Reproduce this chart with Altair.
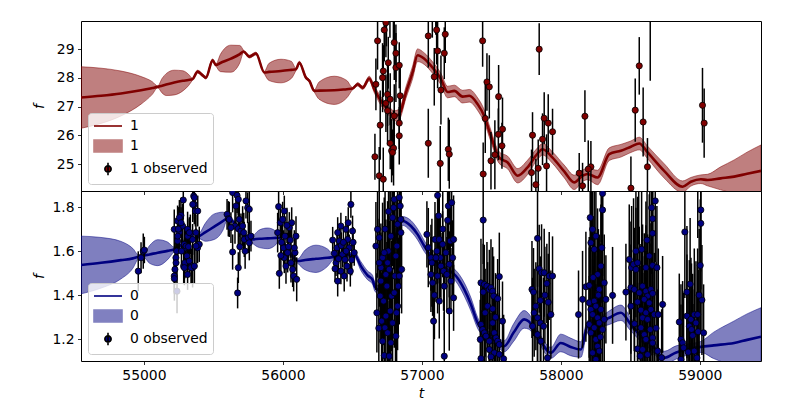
import altair as alt
import pandas as pd

X_DOMAIN = [54547, 59440]
X_TICKS = [55000, 56000, 57000, 58000, 59000]

# ---- GP fit, band "1" (top): (t, mean, half-width) ----
gp_top = [
    (54547, 27.32, 1.07), (54691, 27.38, 0.96), (54835, 27.46, 0.78), (54979, 27.57, 0.48),
    (55060, 27.65, 0.22), (55099, 27.69, 0.03), (55130, 27.73, 0.25), (55160, 27.77, 0.38),
    (55218, 27.84, 0.43), (55280, 27.90, 0.35), (55320, 27.93, 0.2), (55350, 27.96, 0.03),
    (55386, 28.22, 0.05), (55420, 28.10, 0.05), (55446, 28.01, 0.05), (55494, 28.61, 0.05),
    (55518, 28.45, 0.04), (55550, 28.52, 0.3), (55626, 28.67, 0.47), (55690, 28.83, 0.3),
    (55717, 28.92, 0.04), (55758, 28.74, 0.05), (55806, 28.85, 0.05), (55866, 28.19, 0.04),
    (55900, 28.21, 0.3), (55986, 28.24, 0.41), (56060, 28.28, 0.3), (56094, 28.30, 0.04),
    (56118, 28.53, 0.05), (56166, 28.01, 0.05), (56190, 27.90, 0.05), (56226, 27.55, 0.04),
    (56260, 27.56, 0.3), (56369, 27.57, 0.49), (56460, 27.61, 0.3), (56501, 27.63, 0.04),
    (56538, 27.78, 0.06), (56574, 27.66, 0.06), (56621, 27.98, 0.08), (56657, 27.61, 0.12),
    (56705, 27.20, 0.15), (56753, 26.91, 0.15), (56801, 26.68, 0.18), (56837, 26.74, 0.18),
    (56885, 27.49, 0.2), (56933, 28.19, 0.22), (56969, 28.79, 0.22), (57017, 28.67, 0.2),
    (57077, 28.36, 0.2), (57137, 27.96, 0.2), (57185, 27.51, 0.2), (57233, 27.55, 0.2),
    (57293, 27.35, 0.22), (57341, 27.38, 0.22), (57401, 27.09, 0.22), (57448, 26.68, 0.22),
    (57496, 25.99, 0.2), (57556, 25.23, 0.2), (57617, 25.06, 0.22), (57689, 24.60, 0.25),
    (57760, 24.89, 0.25), (57832, 25.37, 0.2), (57868, 25.52, 0.2), (57940, 25.23, 0.2),
    (58024, 24.75, 0.22), (58096, 24.37, 0.25), (58156, 24.60, 0.2), (58192, 24.66, 0.2),
    (58264, 24.54, 0.25), (58348, 25.35, 0.22), (58432, 25.47, 0.22), (58504, 25.61, 0.2),
    (58564, 25.72, 0.22), (58624, 25.41, 0.22), (58743, 24.77, 0.25), (58876, 24.22, 0.2),
    (58935, 24.39, 0.15), (59007, 24.48, 0.15), (59055, 24.45, 0.2), (59150, 24.51, 0.4),
    (59247, 24.57, 0.58), (59340, 24.67, 0.75), (59440, 24.77, 0.9),
]

# ---- observed "1" (top): (t, f, err) ----
obs_top = [
    (56669, 27.78, 0.9), (56681, 29.29, 1.0), (56729, 29.67, 1.1), (56741, 29.92, 1.2),
    (56753, 27.43, 1.1), (56758, 28.53, 0.9), (56717, 28.01, 1.2), (56722, 28.24, 0.9),
    (56741, 27.12, 1.0), (56753, 26.86, 1.2), (56772, 27.26, 0.9), (56801, 29.23, 1.3),
    (56813, 28.86, 1.0), (56813, 28.36, 1.2), (56837, 28.44, 0.8), (56844, 27.38, 1.0),
    (56801, 26.68, 1.1), (56837, 26.43, 0.9), (56837, 25.99, 1.0), (56700, 26.36, 1.2),
    (56662, 25.26, 0.8), (56693, 24.60, 1.0), (56722, 24.48, 1.1), (56772, 25.73, 0.9),
    (56782, 25.47, 1.1), (56796, 25.56, 1.3), (56789, 25.41, 0.8), (56745, 30.40, 1.3),
    (56770, 30.60, 1.2), (56795, 30.30, 1.0), (57046, 29.46, 1.1), (57106, 29.67, 1.2),
    (57168, 29.52, 1.0), (57113, 28.94, 1.3), (57161, 28.86, 0.9), (57089, 28.04, 1.0),
    (57137, 27.58, 1.2), (57046, 25.73, 1.2), (57132, 25.03, 1.3), (57190, 25.52, 1.1),
    (57197, 25.35, 1.2), (57075, 30.50, 1.1), (57100, 30.70, 1.2), (57437, 29.29, 0.9),
    (57468, 27.86, 1.0), (57485, 27.69, 1.1), (57552, 27.35, 1.1), (57456, 26.59, 1.2),
    (57580, 26.22, 1.1), (57550, 26.04, 0.9), (57576, 25.64, 0.8), (57525, 25.33, 1.2),
    (57497, 25.12, 1.0), (57441, 24.66, 1.1), (57844, 29.00, 0.9), (57796, 26.01, 0.8),
    (57880, 26.60, 0.9), (57909, 26.43, 1.0), (57940, 26.13, 0.8), (57868, 25.87, 0.9),
    (57837, 24.86, 1.0), (57897, 24.94, 1.1), (57789, 24.71, 0.8), (57820, 24.29, 0.9),
    (58173, 26.67, 0.9), (58132, 24.69, 0.7), (58156, 24.25, 0.8), (58216, 24.91, 0.9),
    (58197, 24.83, 1.0), (58535, 26.88, 1.1), (58564, 28.42, 1.0), (58592, 26.47, 1.2),
    (58623, 24.91, 1.0), (58504, 24.17, 1.1), (58643, 30.10, 2.2), (59019, 27.05, 1.3),
    (59031, 26.43, 1.2),
]

# ---- GP fit, band "0" (bottom) ----
gp_bot = [
    (54547, 1.537, 0.131), (54691, 1.547, 0.115), (54835, 1.559, 0.085), (54920, 1.567, 0.045),
    (54960, 1.574, 0.01), (55000, 1.580, 0.01), (55040, 1.585, 0.04), (55099, 1.593, 0.059),
    (55170, 1.601, 0.04), (55218, 1.608, 0.01), (55260, 1.625, 0.012), (55302, 1.646, 0.012),
    (55350, 1.655, 0.012), (55398, 1.668, 0.012), (55440, 1.685, 0.04), (55506, 1.711, 0.058),
    (55570, 1.737, 0.04), (55597, 1.747, 0.01), (55650, 1.729, 0.01), (55700, 1.690, 0.01),
    (55770, 1.653, 0.012), (55830, 1.656, 0.04), (55890, 1.658, 0.047), (55950, 1.660, 0.03),
    (55974, 1.661, 0.01), (56040, 1.600, 0.01), (56106, 1.555, 0.01), (56160, 1.560, 0.045),
    (56238, 1.565, 0.062), (56320, 1.570, 0.04), (56369, 1.574, 0.01), (56440, 1.580, 0.01),
    (56513, 1.585, 0.012), (56561, 1.532, 0.02), (56609, 1.490, 0.02), (56645, 1.470, 0.02),
    (56660, 1.440, 0.02), (56700, 1.420, 0.02), (56740, 1.470, 0.02), (56780, 1.580, 0.02),
    (56820, 1.680, 0.02), (56861, 1.737, 0.02), (56921, 1.714, 0.025), (56969, 1.676, 0.025),
    (57017, 1.623, 0.025), (57065, 1.578, 0.02), (57113, 1.547, 0.02), (57185, 1.517, 0.02),
    (57245, 1.487, 0.025), (57305, 1.426, 0.03), (57353, 1.358, 0.03), (57401, 1.274, 0.025),
    (57470, 1.220, 0.02), (57544, 1.187, 0.02), (57592, 1.168, 0.025), (57660, 1.230, 0.04),
    (57736, 1.290, 0.04), (57770, 1.280, 0.035), (57830, 1.220, 0.025), (57928, 1.138, 0.025),
    (57999, 1.183, 0.04), (58070, 1.165, 0.04), (58144, 1.153, 0.035), (58192, 1.259, 0.025),
    (58264, 1.274, 0.02), (58340, 1.295, 0.03), (58432, 1.320, 0.035), (58500, 1.270, 0.03),
    (58576, 1.214, 0.025), (58660, 1.170, 0.025), (58743, 1.115, 0.03), (58830, 1.140, 0.03),
    (58911, 1.153, 0.025), (59007, 1.165, 0.025), (59100, 1.172, 0.06), (59247, 1.183, 0.1),
    (59340, 1.197, 0.118), (59440, 1.211, 0.132),
]

# ---- observed "0" (bottom) ----
obs_bot = [
    (54959, 1.509, 0.09), (54979, 1.570, 0.07), (54995, 1.600, 0.08), (55003, 1.605, 0.06),
    (55218, 1.487, 0.08), (55223, 1.517, 0.07), (55230, 1.570, 0.09), (55235, 1.600, 0.07),
    (55242, 1.646, 0.08), (55218, 1.699, 0.09), (55242, 1.737, 0.07), (55266, 1.762, 0.08),
    (55278, 1.714, 0.1), (55254, 1.684, 0.08), (55290, 1.631, 0.07), (55298, 1.615, 0.09),
    (55286, 1.532, 0.08), (55295, 1.547, 0.07), (55310, 1.578, 0.08), (55283, 1.832, 0.09),
    (55314, 1.699, 0.08), (55326, 1.555, 0.07), (55343, 1.532, 0.08), (55334, 1.676, 0.09),
    (55350, 1.653, 0.07), (55358, 1.850, 0.08), (55362, 1.812, 0.09), (55370, 1.782, 0.07),
    (55374, 1.684, 0.08), (55386, 1.615, 0.07), (55398, 1.631, 0.08), (55350, 1.525, 0.09),
    (55314, 1.494, 0.07), (55255, 1.752, 0.08), (55267, 1.729, 0.07), (55243, 1.668, 0.09),
    (55303, 1.623, 0.07), (55315, 1.668, 0.08), (55327, 1.684, 0.07), (55351, 1.812, 0.08),
    (55363, 1.843, 0.1), (55387, 1.782, 0.07), (55375, 1.623, 0.08), (55339, 1.525, 0.07),
    (55291, 1.525, 0.08), (55231, 1.547, 0.09), (55219, 1.475, 0.1), (55363, 1.532, 0.08),
    (55238, 1.418, 0.1), (55247, 1.700, 0.1), (55270, 1.600, 0.08), (55320, 1.620, 0.09),
    (55598, 1.767, 0.07), (55607, 1.747, 0.08), (55638, 1.866, 0.09), (55670, 1.853, 0.08),
    (55679, 1.835, 0.07), (55655, 1.714, 0.08), (55679, 1.702, 0.09), (55626, 1.707, 0.07),
    (55614, 1.744, 0.08), (55638, 1.596, 0.08), (55679, 1.525, 0.07), (55674, 1.410, 0.07),
    (55698, 1.691, 0.08), (55718, 1.684, 0.09), (55734, 1.828, 0.08), (55746, 1.797, 0.07),
    (55758, 1.790, 0.09), (55722, 1.653, 0.08), (55751, 1.661, 0.07), (55686, 1.744, 0.08),
    (55710, 1.714, 0.09), (55662, 1.805, 0.08), (55770, 1.668, 0.07), (55758, 1.638, 0.08),
    (55690, 1.620, 0.09), (55728, 1.600, 0.08),
    (55969, 1.802, 0.08), (55981, 1.729, 0.07), (55962, 1.684, 0.09), (55974, 1.499, 0.07),
    (55998, 1.744, 0.08), (56010, 1.782, 0.07), (56015, 1.668, 0.09), (56005, 1.615, 0.08),
    (56010, 1.570, 0.07), (56022, 1.532, 0.08), (56034, 1.593, 0.09), (56046, 1.707, 0.07),
    (56053, 1.650, 0.08), (56058, 1.547, 0.09), (56070, 1.517, 0.08), (56077, 1.487, 0.07),
    (56087, 1.593, 0.08), (56094, 1.668, 0.09), (56082, 1.615, 0.08), (56099, 1.472, 0.1),
    (56063, 1.729, 0.07), (56029, 1.717, 0.08), (55990, 1.640, 0.08), (55985, 1.580, 0.07),
    (56040, 1.620, 0.08),
    (56358, 1.650, 0.06), (56394, 1.684, 0.07), (56406, 1.646, 0.06), (56389, 1.615, 0.07),
    (56382, 1.547, 0.06), (56394, 1.464, 0.07), (56429, 1.585, 0.06), (56441, 1.487, 0.07),
    (56453, 1.699, 0.06), (56466, 1.653, 0.07), (56477, 1.615, 0.06), (56485, 1.509, 0.07),
    (56489, 1.812, 0.06), (56501, 1.691, 0.07), (56513, 1.593, 0.06), (56470, 1.729, 0.07),
    (56417, 1.714, 0.06), (56446, 1.562, 0.07), (56417, 1.509, 0.06), (56461, 1.532, 0.07),
    (56370, 1.590, 0.06), (56400, 1.565, 0.07), (56420, 1.625, 0.06), (56435, 1.640, 0.07),
    (56455, 1.600, 0.06), (56495, 1.560, 0.07), (56375, 1.520, 0.06), (56505, 1.640, 0.07),
    (56669, 1.623, 0.2), (56681, 1.699, 0.22), (56676, 1.320, 0.18), (56693, 1.661, 0.25),
    (56705, 1.525, 0.2), (56705, 1.464, 0.22), (56717, 1.570, 0.25), (56724, 1.373, 0.2),
    (56710, 1.282, 0.22), (56717, 1.191, 0.2), (56729, 1.126, 0.25), (56734, 1.252, 0.22),
    (56741, 1.494, 0.25), (56748, 1.441, 0.2), (56753, 1.547, 0.28), (56758, 1.600, 0.22),
    (56765, 1.123, 0.25), (56772, 1.328, 0.2), (56777, 1.668, 0.3), (56782, 1.396, 0.25),
    (56789, 1.752, 0.22), (56796, 1.797, 0.28), (56801, 1.835, 0.25), (56806, 1.487, 0.22),
    (56813, 1.578, 0.25), (56820, 1.623, 0.2), (56825, 1.722, 0.25), (56830, 1.441, 0.22),
    (56837, 1.843, 0.25), (56844, 1.805, 0.2), (56849, 1.744, 0.22), (56849, 1.684, 0.25),
    (56854, 1.517, 0.2), (56789, 1.274, 0.25), (56753, 1.229, 0.22), (56693, 1.547, 0.2),
    (56729, 1.593, 0.25), (56765, 1.517, 0.22), (56801, 1.411, 0.25), (56825, 1.350, 0.2),
    (56741, 1.305, 0.22), (56777, 1.184, 0.25), (56813, 1.214, 0.22), (56700, 1.396, 0.2),
    (56837, 1.487, 0.22), (56770, 1.950, 0.3), (56790, 2.000, 0.25), (56845, 1.930, 0.2),
    (56760, 1.050, 0.25), (56810, 1.060, 0.22), (56735, 1.700, 0.25), (56760, 1.780, 0.22),
    (56690, 1.250, 0.2), (56818, 1.320, 0.25),
    (57036, 1.676, 0.15), (57046, 1.616, 0.18), (57065, 1.570, 0.15), (57072, 1.547, 0.2),
    (57065, 1.494, 0.17), (57077, 1.456, 0.15), (57084, 1.282, 0.18), (57113, 1.853, 0.2),
    (57094, 1.653, 0.17), (57108, 1.600, 0.15), (57125, 1.653, 0.2), (57132, 1.570, 0.18),
    (57137, 1.532, 0.15), (57113, 1.487, 0.17), (57101, 1.570, 0.2), (57149, 1.631, 0.15),
    (57156, 1.509, 0.18), (57161, 1.441, 0.2), (57173, 1.593, 0.15), (57180, 1.494, 0.17),
    (57190, 1.805, 0.2), (57197, 1.540, 0.15), (57204, 1.646, 0.18), (57214, 1.820, 0.2),
    (57209, 1.464, 0.15), (57221, 1.570, 0.17), (57228, 1.653, 0.2), (57228, 1.388, 0.15),
    (57197, 1.328, 0.18), (57161, 1.123, 0.2), (57125, 1.373, 0.17), (57090, 1.400, 0.2),
    (57150, 1.700, 0.18), (57185, 1.740, 0.2), (57120, 1.760, 0.17), (57200, 1.920, 0.2),
    (57441, 1.741, 0.2), (57425, 1.456, 0.2), (57449, 1.449, 0.18), (57441, 1.414, 0.22),
    (57468, 1.441, 0.2), (57485, 1.426, 0.18), (57497, 1.434, 0.22), (57509, 1.418, 0.2),
    (57516, 1.396, 0.18), (57473, 1.350, 0.2), (57509, 1.338, 0.22), (57557, 1.484, 0.2),
    (57545, 1.384, 0.18), (57425, 1.267, 0.2), (57437, 1.244, 0.22), (57449, 1.229, 0.2),
    (57420, 1.199, 0.18), (57461, 1.214, 0.2), (57485, 1.191, 0.22), (57509, 1.274, 0.2),
    (57521, 1.229, 0.18), (57533, 1.206, 0.2), (57545, 1.191, 0.22), (57557, 1.176, 0.2),
    (57580, 1.282, 0.18), (57485, 1.153, 0.2), (57521, 1.138, 0.22), (57497, 1.120, 0.2),
    (57557, 1.131, 0.18), (57588, 1.111, 0.2), (57425, 1.112, 0.22), (57455, 1.320, 0.2),
    (57530, 1.300, 0.2),
    (57792, 1.426, 0.22), (57803, 1.414, 0.2), (57832, 1.658, 0.22), (57844, 1.520, 0.2),
    (57861, 1.502, 0.22), (57880, 1.502, 0.2), (57899, 1.453, 0.18), (57916, 1.487, 0.2),
    (57940, 1.487, 0.18), (57852, 1.376, 0.2), (57909, 1.368, 0.22), (57808, 1.320, 0.2),
    (57832, 1.297, 0.22), (57852, 1.274, 0.2), (57875, 1.259, 0.22), (57928, 1.312, 0.2),
    (57796, 1.259, 0.22), (57832, 1.221, 0.2), (57856, 1.191, 0.22), (57904, 1.115, 0.2),
    (57820, 1.350, 0.2), (57885, 1.400, 0.22),
    (58127, 1.312, 0.2), (58156, 1.381, 0.22), (58180, 1.438, 0.25), (58204, 1.444, 0.22),
    (58211, 1.752, 0.25), (58216, 1.638, 0.3), (58228, 1.699, 0.25), (58240, 1.608, 0.28),
    (58252, 1.668, 0.25), (58264, 1.494, 0.3), (58276, 1.426, 0.25), (58288, 1.532, 0.28),
    (58295, 1.615, 0.25), (58300, 1.787, 0.3), (58300, 1.862, 0.25), (58312, 1.456, 0.22),
    (58324, 1.381, 0.2), (58372, 1.399, 0.22), (58204, 1.366, 0.25), (58216, 1.335, 0.28),
    (58228, 1.312, 0.25), (58240, 1.373, 0.3), (58252, 1.350, 0.25), (58264, 1.297, 0.28),
    (58276, 1.274, 0.25), (58204, 1.267, 0.22), (58216, 1.229, 0.25), (58240, 1.252, 0.28),
    (58252, 1.199, 0.25), (58264, 1.168, 0.22), (58228, 1.138, 0.25), (58276, 1.146, 0.28),
    (58252, 1.108, 0.25), (58300, 1.244, 0.28), (58312, 1.290, 0.25), (58288, 1.335, 0.3),
    (58220, 1.950, 0.3), (58290, 1.940, 0.3), (58240, 1.070, 0.25), (58270, 1.400, 0.3),
    (58232, 1.480, 0.28), (58284, 1.210, 0.25),
    (58492, 1.562, 0.25), (58468, 1.414, 0.22), (58509, 1.525, 0.28), (58523, 1.540, 0.3),
    (58540, 1.517, 0.28), (58552, 1.547, 0.3), (58581, 1.608, 0.28), (58612, 1.525, 0.3),
    (58636, 1.578, 0.28), (58653, 1.797, 0.3), (58660, 1.747, 0.28), (58660, 1.681, 0.3),
    (58679, 1.828, 0.28), (58660, 1.535, 0.3), (58691, 1.525, 0.28), (58504, 1.434, 0.3),
    (58528, 1.426, 0.28), (58564, 1.411, 0.3), (58588, 1.441, 0.28), (58612, 1.418, 0.3),
    (58624, 1.396, 0.28), (58648, 1.426, 0.3), (58660, 1.408, 0.28), (58600, 1.381, 0.3),
    (58552, 1.369, 0.28), (58636, 1.365, 0.3), (58732, 1.358, 0.22), (58504, 1.350, 0.28),
    (58576, 1.332, 0.3), (58612, 1.320, 0.28), (58648, 1.335, 0.3), (58672, 1.312, 0.28),
    (58701, 1.312, 0.3), (58588, 1.297, 0.28), (58624, 1.290, 0.3), (58576, 1.252, 0.28),
    (58643, 1.244, 0.3), (58600, 1.221, 0.28), (58660, 1.206, 0.3), (58612, 1.199, 0.28),
    (58552, 1.156, 0.3), (58588, 1.153, 0.28), (58624, 1.130, 0.3), (58696, 1.146, 0.28),
    (58725, 1.116, 0.22), (58571, 1.123, 0.3), (58660, 1.183, 0.28), (58560, 1.930, 0.3),
    (58640, 1.920, 0.3), (58600, 1.050, 0.3), (58530, 1.270, 0.28), (58685, 1.250, 0.3),
    (58540, 1.600, 0.3), (58620, 1.650, 0.3),
    (58852, 1.278, 0.22), (58864, 1.199, 0.25), (58876, 1.184, 0.28), (58892, 1.687, 0.3),
    (58883, 1.161, 0.25), (58907, 1.414, 0.3), (58907, 1.305, 0.28), (58924, 1.259, 0.3),
    (58936, 1.290, 0.28), (58940, 1.244, 0.3), (58948, 1.217, 0.28), (58960, 1.312, 0.3),
    (58972, 1.274, 0.28), (58984, 1.312, 0.3), (58988, 1.234, 0.28), (59003, 1.535, 0.3),
    (59007, 1.787, 0.28), (59007, 1.726, 0.3), (59015, 1.378, 0.25), (59027, 1.229, 0.22),
    (58960, 1.146, 0.28), (58979, 1.115, 0.3), (58916, 1.141, 0.28), (58864, 1.108, 0.25),
    (58985, 1.960, 0.3), (58950, 1.060, 0.3), (58930, 1.450, 0.3), (58995, 1.400, 0.3),
]

TOP_YDOM = [24.07, 29.98]
TOP_YTICKS = [25, 26, 27, 28, 29]
BOT_YDOM = [1.101, 1.873]
BOT_YTICKS = [1.2, 1.4, 1.6, 1.8]

LEG_PATHS = [
    "M-2,0H2",
    "M-2,-0.85H2V0.85H-2Z",
    "M0,-0.9V0.9M0.45,0A0.45,0.45,0,1,1,-0.45,0A0.45,0.45,0,1,1,0.45,0Z",
]


def panel(gp, obs, line_c, band_leg_c, ydom, yticks, yfmt, xaxis, name):
    gdf = pd.DataFrame(gp, columns=["t", "mu", "sd"])
    gdf["lo"] = gdf["mu"] - gdf["sd"]
    gdf["hi"] = gdf["mu"] + gdf["sd"]
    odf = pd.DataFrame(obs, columns=["t", "f", "e"])
    odf["lo"] = odf["f"] - odf["e"]
    odf["hi"] = odf["f"] + odf["e"]

    xs = alt.Scale(domain=X_DOMAIN, nice=False, zero=False)
    ys = alt.Scale(domain=ydom, nice=False, zero=False)
    yaxis = alt.Axis(values=yticks, format=yfmt, title="f")

    def X():
        return alt.X("t:Q", scale=xs, axis=xaxis)

    band = alt.Chart(gdf).mark_area(
        interpolate="monotone", fill=line_c, fillOpacity=0.5,
        stroke=line_c, strokeOpacity=0.5, strokeWidth=1, clip=True
    ).encode(x=X(), y=alt.Y("lo:Q", scale=ys, axis=yaxis), y2="hi:Q")
    line = alt.Chart(gdf).mark_line(
        interpolate="monotone", color=line_c, strokeWidth=2.6, clip=True
    ).encode(x=X(), y=alt.Y("mu:Q", scale=ys, axis=yaxis))
    err = alt.Chart(odf).mark_rule(color="black", strokeWidth=1.5, clip=True).encode(
        x=X(), y=alt.Y("lo:Q", scale=ys, axis=yaxis), y2="hi:Q")
    pts = alt.Chart(odf).mark_point(
        shape="circle", filled=True, fill=line_c, stroke="black",
        strokeWidth=0.8, size=38, opacity=1, clip=True
    ).encode(x=X(), y=alt.Y("f:Q", scale=ys, axis=yaxis))

    keys = ["line" + name, "band" + name, "obs" + name]
    leg = alt.Legend(
        title=None, orient="bottom-left", offset=7,
        labelExpr="datum.value == 'obs%s' ? '%s observed' : '%s'" % (name, name, name),
        fillColor="rgba(255,255,255,0.8)", strokeColor="#cccccc", cornerRadius=3,
        padding=5, rowPadding=3, symbolSize=196, symbolStrokeWidth=1.6,
        symbolOffset=7, labelOffset=14, labelFont="DejaVu Sans", labelFontSize=13.9,
        labelColor="black",
    )
    legdf = pd.DataFrame({"k": keys})
    leg_layer = alt.Chart(legdf).transform_filter("false").mark_point(opacity=1, filled=True).encode(
        fill=alt.Fill("k:N", scale=alt.Scale(domain=keys, range=["transparent", band_leg_c, line_c]), legend=leg),
        stroke=alt.Stroke("k:N", scale=alt.Scale(domain=keys, range=[line_c, band_leg_c, "black"]), legend=leg),
        shape=alt.Shape("k:N", scale=alt.Scale(domain=keys, range=LEG_PATHS), legend=leg),
    )
    return alt.layer(band, line, err, pts, leg_layer).properties(width=680, height=170)


top = panel(gp_top, obs_top, "#800000", "#c08080", TOP_YDOM, TOP_YTICKS, "d",
            alt.Axis(values=X_TICKS, labels=False, title=None), "1")
bottom = panel(gp_bot, obs_bot, "#000080", "#8080c0", BOT_YDOM, BOT_YTICKS, ".1f",
               alt.Axis(values=X_TICKS, format="d", title="t"), "0")

chart = alt.vconcat(top, bottom, spacing=0, bounds="flush").resolve_scale(
    fill="independent", stroke="independent", shape="independent"
).properties(
    padding={"left": 23, "top": 12, "right": 10, "bottom": 5},
    background="white",
).configure_view(
    stroke="black", strokeWidth=1
).configure_axis(
    domain=False, grid=False, tickColor="black", tickWidth=0.8, tickSize=3.5,
    labelPadding=3.5, labelFont="DejaVu Sans", labelFontSize=13.9, labelColor="black",
    titleFont="DejaVu Sans", titleFontSize=13.9, titleFontStyle="italic",
    titleFontWeight="normal", titleColor="black",
).configure_axisY(
    minExtent=30, maxExtent=30, titlePadding=5
).configure_axisX(
    titlePadding=5
)

chart.save("out.html", embed_options={"renderer": "svg", "actions": False})
